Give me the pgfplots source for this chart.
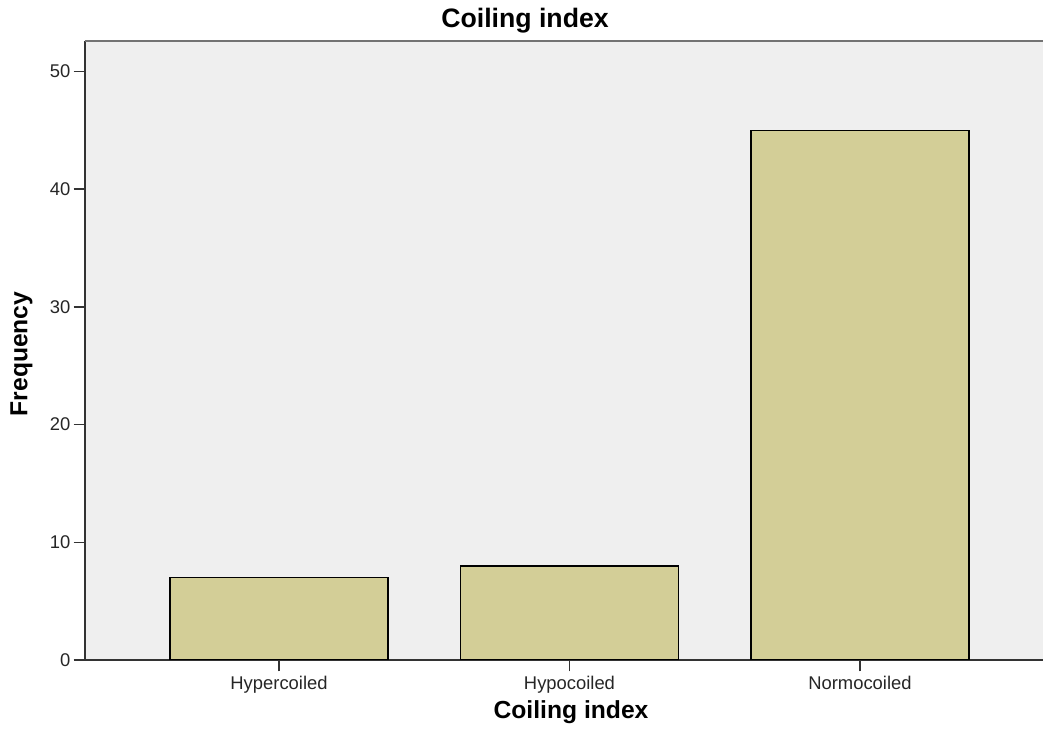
\documentclass[border=0pt]{standalone}
\usepackage{pgfplots}
\pgfplotsset{compat=1.18}
\usepackage{fontspec}
\setmainfont{Liberation Sans}
\definecolor{barfill}{HTML}{D3CE97}
\definecolor{panel}{HTML}{EFEFEF}
\definecolor{axisdark}{HTML}{333333}

\begin{document}
\begin{tikzpicture}
\useasboundingbox (0,0) rectangle (782.25pt,547.5pt);
\begin{axis}[
    at={(63.75pt,52.5pt)}, anchor=south west,
    scale only axis,
    width=721.5pt, height=464.25pt,
    xmin=-0.668, xmax=2.644,
    ymin=0, ymax=52.6,
    axis x line*=bottom, axis y line*=left,
    axis line style={draw=axisdark, line width=1.1pt},
    axis background/.style={fill=panel},
    xtick={0,1,2},
    xticklabels={Hypercoiled,Hypocoiled,Normocoiled},
    ytick={0,10,20,30,40,50},
    tick align=outside,
    major tick length=8.5pt,
    tick style={axisdark, line width=1.2pt},
    /pgf/number format/assume math mode=true,
    ticklabel style={font=\fontsize{13.8}{15}\selectfont, text=black!85},
    yticklabel style={xshift=1pt},
    ybar, bar width=163.5pt,
]
\addplot[fill=barfill, draw=black, line width=1.3pt] coordinates {(0,7) (1,8) (2,45)};
\draw[black!55, line width=1.3pt] (rel axis cs:0,1) -- (rel axis cs:1,1);
\end{axis}
\node[font=\fontsize{20}{24}\selectfont\bfseries] at (393.75pt,532pt) {Coiling index};
\node[font=\fontsize{18.5}{22}\selectfont\bfseries] at (428.25pt,13pt) {Coiling index};
\node[font=\fontsize{18.5}{22}\selectfont\bfseries, rotate=90] at (16pt,282pt) {Frequency};
\end{tikzpicture}
\end{document}
